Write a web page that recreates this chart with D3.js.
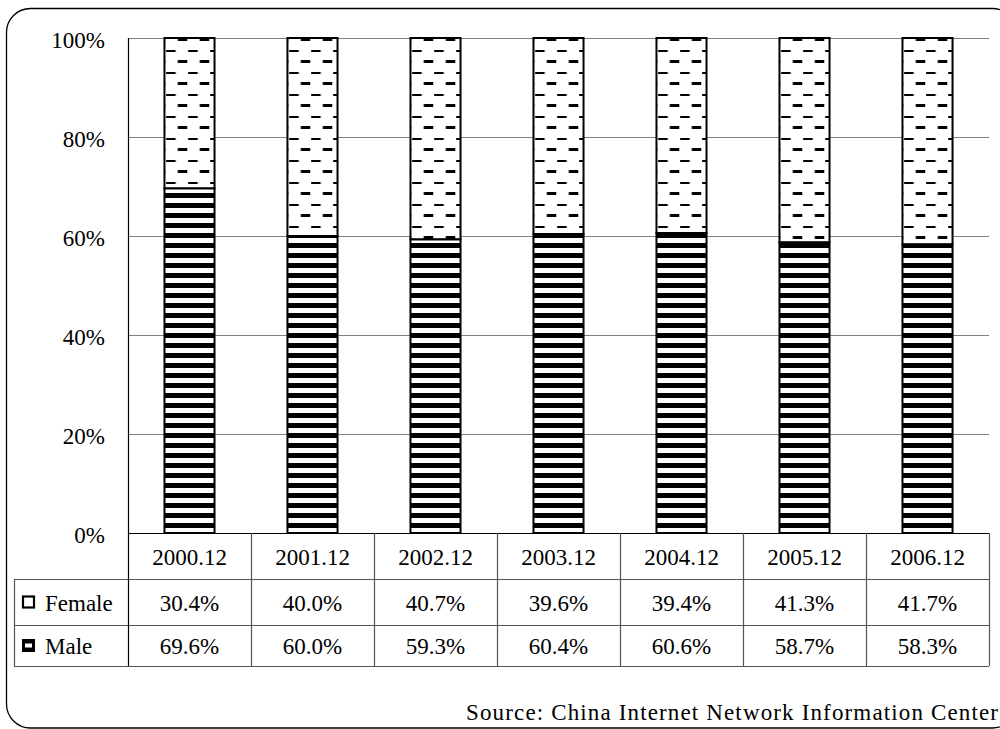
<!DOCTYPE html>
<html>
<head>
<meta charset="utf-8">
<script src="https://cdn.jsdelivr.net/npm/d3@7/dist/d3.min.js"></script>
<style>
  html, body { margin: 0; padding: 0; background: #fff; }
  svg text { font-family: "Liberation Serif", "DejaVu Serif", "Times New Roman", serif; }
</style>
</head>
<body>
<svg id="chart" width="1000" height="729"></svg>
<script>
// Gender share of Chinese internet users, year-end surveys
const categories = ["2000.12", "2001.12", "2002.12", "2003.12", "2004.12", "2005.12", "2006.12"];
const female = [30.4, 40.0, 40.7, 39.6, 39.4, 41.3, 41.7];
const male = [69.6, 60.0, 59.3, 60.4, 60.6, 58.7, 58.3];
const yTicks = [0, 20, 40, 60, 80, 100];
const seriesNames = ["Female", "Male"];
const sourceText = "Source: China Internet Network Information Center";

const FONT = "Liberation Serif, DejaVu Serif, serif";
const svg = d3.select("#chart").attr("font-family", FONT);

const plotLeft = 128, plotRight = 989, plotTop = 38, plotBottom = 533;
const rowH = [533, 579, 625, 666]; // table row boundaries
const legendLeft = 14;

const x = d3.scaleBand()
  .domain(categories)
  .range([plotLeft, plotRight])
  .paddingInner(0.593)
  .paddingOuter(0.2965);

const y = d3.scaleLinear().domain([0, 100]).range([plotBottom, plotTop]);

// Fill patterns
const defs = svg.append("defs");
const male_p = defs.append("pattern")
  .attr("id", "malePat")
  .attr("patternUnits", "userSpaceOnUse")
  .attr("x", 0).attr("y", y(0) % 10)
  .attr("width", 20).attr("height", 10);
male_p.append("rect").attr("width", 20).attr("height", 10).attr("fill", "#fff");
male_p.append("rect").attr("width", 20).attr("height", 5).attr("fill", "#000");

const fem_p = defs.append("pattern")
  .attr("id", "femalePat")
  .attr("patternUnits", "userSpaceOnUse")
  .attr("x", 1.7).attr("y", y(100))
  .attr("width", 22).attr("height", 22);
fem_p.append("rect").attr("width", 22).attr("height", 22).attr("fill", "#fff");
fem_p.append("rect").attr("x", 11.6).attr("y", 0).attr("width", 9.5).attr("height", 3).attr("fill", "#000");
fem_p.append("rect").attr("x", 0).attr("y", 12).attr("width", 9.5).attr("height", 2).attr("fill", "#000");

// Outer rounded frame
svg.append("rect")
  .attr("x", 6.5).attr("y", 8.5)
  .attr("width", 1010).attr("height", 719.5)
  .attr("rx", 24).attr("ry", 24)
  .attr("fill", "none").attr("stroke", "#000").attr("stroke-width", 1.3);

// Gridlines
svg.append("g").selectAll("line")
  .data(yTicks.filter(d => d > 0))
  .join("line")
  .attr("x1", plotLeft).attr("x2", plotRight)
  .attr("y1", d => Math.round(y(d)) + 0.5).attr("y2", d => Math.round(y(d)) + 0.5)
  .attr("stroke", "#808080").attr("stroke-width", 1.2);

// Y tick labels
svg.append("g").selectAll("text")
  .data(yTicks)
  .join("text")
  .attr("x", 105)
  .attr("y", d => y(d) + 2)
  .attr("text-anchor", "end")
  .attr("dominant-baseline", "central")
  .attr("font-family", FONT)
  .attr("font-size", 23)
  .attr("fill", "#000")
  .text(d => d + "%");

// Stacked bars
const bars = svg.append("g").selectAll("g")
  .data(categories.map((c, i) => ({ c, m: male[i], f: female[i] })))
  .join("g")
  .attr("transform", d => `translate(${x(d.c)},0)`);

bars.append("rect")
  .attr("x", 0).attr("width", x.bandwidth())
  .attr("y", d => y(d.m + d.f))
  .attr("height", d => y(d.m) - y(d.m + d.f))
  .attr("fill", "url(#femalePat)")
  .attr("stroke", "#000").attr("stroke-width", 2);

bars.append("rect")
  .attr("x", 0).attr("width", x.bandwidth())
  .attr("y", d => y(d.m))
  .attr("height", d => y(0) - y(d.m))
  .attr("fill", "url(#malePat)")
  .attr("stroke", "#000").attr("stroke-width", 2);

// Data table
const tbl = svg.append("g");
const lineColor = "#555";
const edges = [plotLeft].concat(categories.map(c => x(c) + x.bandwidth() / 2 + x.step() / 2));

// horizontal lines
tbl.append("line").attr("x1", plotLeft).attr("x2", plotRight)
  .attr("y1", rowH[0] + 0.5).attr("y2", rowH[0] + 0.5)
  .attr("stroke", "#000").attr("stroke-width", 1.2);
tbl.selectAll("line.h")
  .data(rowH.slice(1))
  .join("line").attr("class", "h")
  .attr("x1", legendLeft).attr("x2", plotRight)
  .attr("y1", d => d + 0.5).attr("y2", d => d + 0.5)
  .attr("stroke", lineColor).attr("stroke-width", 1.2);

// vertical lines
tbl.append("line")
  .attr("x1", plotLeft + 0.5).attr("x2", plotLeft + 0.5)
  .attr("y1", plotTop).attr("y2", rowH[3])
  .attr("stroke", "#000").attr("stroke-width", 1.2);
tbl.append("line")
  .attr("x1", legendLeft + 0.5).attr("x2", legendLeft + 0.5)
  .attr("y1", rowH[1]).attr("y2", rowH[3])
  .attr("stroke", lineColor).attr("stroke-width", 1.2);
tbl.selectAll("line.v")
  .data(edges.slice(1))
  .join("line").attr("class", "v")
  .attr("x1", d => Math.round(d) + 0.5).attr("x2", d => Math.round(d) + 0.5)
  .attr("y1", rowH[0]).attr("y2", rowH[3])
  .attr("stroke", lineColor).attr("stroke-width", 1.2);

const cx = c => x(c) + x.bandwidth() / 2;
const midRow = i => (rowH[i] + rowH[i + 1]) / 2 + 1;

tbl.selectAll("text.cat")
  .data(categories)
  .join("text").attr("class", "cat")
  .attr("x", cx).attr("y", midRow(0))
  .attr("text-anchor", "middle").attr("dominant-baseline", "central")
  .attr("font-family", FONT)
  .attr("font-size", 23).text(d => d);

[female, male].forEach((vals, r) => {
  tbl.selectAll("text.r" + r)
    .data(vals)
    .join("text").attr("class", "r" + r)
    .attr("x", (d, i) => cx(categories[i]))
    .attr("y", midRow(r + 1))
    .attr("text-anchor", "middle").attr("dominant-baseline", "central")
    .attr("font-family", FONT)
    .attr("font-size", 23)
    .text(d => d.toFixed(1) + "%");
});

// Legend keys inside the table
seriesNames.forEach((name, r) => {
  const yc = midRow(r + 1) - 1;
  const g = tbl.append("g");
  if (name === "Female") {
    g.append("rect").attr("x", 23).attr("y", yc - 5.5).attr("width", 11).attr("height", 11)
      .attr("fill", "#fff").attr("stroke", "#000").attr("stroke-width", 2.2);
  } else {
    g.append("rect").attr("x", 22).attr("y", yc - 6.5).attr("width", 13).attr("height", 13)
      .attr("fill", "#000");
    g.append("rect").attr("x", 25).attr("y", yc - 2).attr("width", 7).attr("height", 4)
      .attr("fill", "#fff");
  }
  g.append("text")
    .attr("x", 45).attr("y", yc + 1)
    .attr("dominant-baseline", "central")
    .attr("font-family", FONT)
    .attr("font-size", 23).text(name);
});

// Source note
svg.append("text")
  .attr("x", 466).attr("y", 720)
  .attr("font-family", FONT)
  .attr("font-size", 23)
  .attr("textLength", 532).attr("lengthAdjust", "spacing")
  .text(sourceText);
</script>
</body>
</html>
